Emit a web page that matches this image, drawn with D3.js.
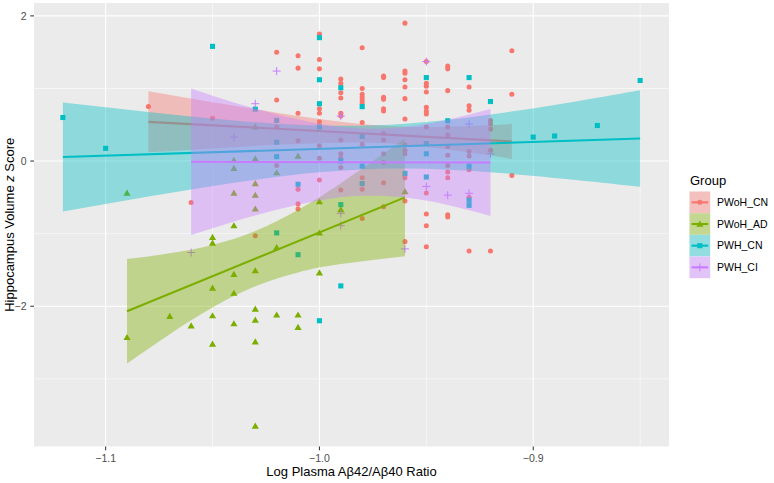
<!DOCTYPE html>
<html><head><meta charset="utf-8">
<script src="https://cdn.jsdelivr.net/npm/d3@7"></script>
<style>body{margin:0;background:#fff} svg{display:block} text{font-family:"Liberation Sans",Arial,Helvetica,sans-serif}</style>
</head><body><svg id="c" width="774" height="483"></svg>
<script>
const groups = ["PWoH_CN","PWoH_AD","PWH_CN","PWH_CI"];
const colors = ["#F8766D","#7CAE00","#00BFC4","#C77CFF"];
const shapes = ["circle","triangle","square","plus"];
const xTicks = [-1.1,-1.0,-0.9];
const xTickLabels = ["\u22121.1","\u22121.0","\u22120.9"];
const xMinor = [-1.05,-0.95,-0.85];
const yTicks = [2,0,-2];
const yTickLabels = ["2","0","\u22122"];
const yMinor = [1,-1,-3];

// points [x, y]
const pwohCN = [[-1.08,0.75],[-1.06,-0.57],[-1.05,0.59],[-1.03,-1.03],
[-1.02,1.50],[-1.02,0.84],[-1.02,0.47],[-1.02,-0.06],
[-1.01,1.45],[-1.01,1.28],[-1.01,0.66],[-1.01,0.28],[-1.01,-0.39],[-1.01,-0.59],[-1.01,-0.66],
[-1.00,1.75],[-1.00,1.40],[-1.00,1.27],[-1.00,0.72],[-1.00,0.66],[-1.00,0.54],[-1.00,0.21],[-1.00,0.04],[-1.00,-0.26],
[-0.99,1.13],[-0.99,1.07],[-0.99,0.94],[-0.99,0.87],[-0.99,0.66],[-0.99,0.62],[-0.99,0.29],[-0.99,0.10],[-0.99,0.04],[-0.99,-0.09],[-0.99,-0.40],
[-0.98,1.56],[-0.98,1.00],[-0.98,0.92],[-0.98,0.88],[-0.98,0.84],[-0.98,0.80],[-0.98,0.53],[-0.98,0.23],[-0.98,-0.23],[-0.98,-0.39],[-0.98,-0.79],
[-0.97,1.17],[-0.97,1.15],[-0.97,0.88],[-0.97,0.85],[-0.97,0.72],[-0.97,0.69],[-0.97,0.38],[-0.97,0.29],[-0.97,0.10],[-0.97,-0.02],[-0.97,-0.30],[-0.97,-0.63],
[-0.96,1.90],[-0.96,1.24],[-0.96,1.21],[-0.96,1.12],[-0.96,1.02],[-0.96,0.86],[-0.96,0.58],[-0.96,0.22],[-0.96,0.15],[-0.96,0.10],[-0.96,-0.23],[-0.96,-0.55],[-0.96,-1.11],
[-0.95,1.37],[-0.95,1.07],[-0.95,1.03],[-0.95,0.95],[-0.95,0.74],[-0.95,0.69],[-0.95,0.65],[-0.95,0.47],[-0.95,-0.44],[-0.95,-0.73],[-0.95,-0.89],[-0.95,-1.18],
[-0.94,1.31],[-0.94,1.27],[-0.94,0.97],[-0.94,0.47],[-0.94,0.36],[-0.94,0.20],[-0.94,0.08],[-0.94,-0.06],[-0.94,-0.15],[-0.94,-0.23],[-0.94,-0.74],[-0.94,-0.77],
[-0.93,1.02],[-0.93,0.76],[-0.93,0.70],[-0.93,0.13],[-0.93,0.07],[-0.93,-0.12],[-0.93,-0.50],[-0.93,-1.24],
[-0.92,0.56],[-0.92,0.51],[-0.92,0.44],[-0.92,0.15],[-0.92,-1.24],
[-0.91,1.52],[-0.91,0.92],[-0.91,-0.20]];

const pwohAD = [[-1.09,-0.44],[-1.09,-2.43],[-1.07,-2.14],[-1.06,-2.27],
[-1.05,-1.05],[-1.05,-1.13],[-1.05,-1.75],[-1.05,-2.13],[-1.05,-2.52],
[-1.04,0.01],[-1.04,-0.10],[-1.04,-0.44],[-1.04,-0.89],[-1.04,-1.56],[-1.04,-1.82],[-1.04,-2.24],
[-1.03,0.47],[-1.03,0.03],[-1.03,-0.31],[-1.03,-0.47],[-1.03,-0.66],[-1.03,-1.51],[-1.03,-2.04],[-1.03,-2.19],[-1.03,-2.49],[-1.03,-3.65],
[-1.02,-0.16],[-1.02,-1.19],[-1.02,-2.12],
[-1.01,0.07],[-1.01,-2.12],[-1.01,-2.29],
[-1.00,-0.56],[-1.00,-0.99],[-1.00,-1.54],
[-0.99,-0.67],[-0.96,-0.42]];

const pwhCN = [[-1.12,0.60],[-1.10,0.175],[-1.05,1.58],[-1.03,0.715],
[-1.02,0.56],[-1.02,0.26],[-1.02,0.06],[-1.02,-0.99],
[-1.01,-0.32],[-1.01,-1.29],
[-1.00,1.70],[-1.00,1.12],[-1.00,0.79],[-1.00,0.47],[-1.00,-2.20],
[-0.99,1.01],[-0.99,0.00],[-0.99,-0.60],[-0.99,-1.72],
[-0.98,0.75],[-0.98,0.34],[-0.98,-0.07],[-0.98,-0.31],
[-0.96,-0.17],
[-0.95,1.15],[-0.95,0.24],[-0.95,0.10],[-0.95,-0.22],
[-0.94,0.555],
[-0.93,1.15],[-0.93,-0.07],[-0.93,-0.54],[-0.93,-0.61],
[-0.92,0.82],
[-0.90,0.33],[-0.89,0.345],[-0.87,0.49],[-0.85,1.11]];

const pwhCI = [[-1.06,-1.26],[-1.04,0.33],[-1.03,0.79],[-1.02,1.24],[-0.99,0.62],[-0.99,-0.72],[-0.99,-0.89],
[-0.96,-1.21],[-0.95,1.37],[-0.95,-0.35],[-0.94,-0.47],[-0.93,0.51],[-0.93,-0.445],[-0.92,0.10]];

// smooth (lm) fits: [x, fit, lower, upper]
const fitPwohCN = [[-1.08,0.54,0.12,0.96],[-1.05,0.492,0.174,0.81],[-1.02,0.445,0.223,0.667],[-0.99,0.397,0.253,0.541],[-0.96,0.349,0.226,0.472],[-0.93,0.302,0.12,0.484],[-0.91,0.27,0.03,0.51]];
const fitPwohAD = [[-1.09,-2.07,-2.79,-1.35],[-1.07,-1.828,-2.385,-1.271],[-1.05,-1.587,-2.018,-1.156],[-1.03,-1.345,-1.725,-0.965],[-1.01,-1.103,-1.534,-0.672],[-0.99,-0.862,-1.419,-0.305],[-0.96,-0.50,-1.31,0.31]];
const fitPwhCN = [[-1.12,0.055,-0.695,0.805],[-1.08,0.093,-0.489,0.675],[-1.04,0.13,-0.30,0.56],[-1.00,0.168,-0.154,0.49],[-0.96,0.206,-0.102,0.514],[-0.92,0.243,-0.155,0.641],[-0.88,0.281,-0.26,0.822],[-0.85,0.31,-0.355,0.975]];
const fitPwhCI = [[-1.06,-0.01,-1.02,1.0],[-1.04,-0.012,-0.832,0.808],[-1.02,-0.013,-0.671,0.645],[-1.00,-0.014,-0.543,0.515],[-0.98,-0.016,-0.479,0.447],[-0.96,-0.017,-0.503,0.469],[-0.94,-0.018,-0.605,0.569],[-0.92,-0.02,-0.756,0.716]];

const pointSets = [pwohCN, pwohAD, pwhCN, pwhCI];
const fitSets = [fitPwohCN, fitPwohAD, fitPwhCN, fitPwhCI];

const W = 774, H = 483;
const P = {l:34, r:669, t:3, b:446.5};
const svg = d3.select("#c");
const x = d3.scaleLinear().domain([-1.1335,-0.8365]).range([P.l,P.r]);
const y = d3.scaleLinear().domain([-3.9325,2.1775]).range([P.b,P.t]);

svg.append("rect").attr("x",0).attr("y",0).attr("width",W).attr("height",H).attr("fill","#fff");
svg.append("rect").attr("x",P.l).attr("y",P.t).attr("width",P.r-P.l).attr("height",P.b-P.t).attr("fill","#EBEBEB");

const grid = svg.append("g");
xMinor.forEach(v=>grid.append("line").attr("x1",x(v)).attr("x2",x(v)).attr("y1",P.t).attr("y2",P.b).attr("stroke","#fff").attr("stroke-width",0.55));
yMinor.forEach(v=>grid.append("line").attr("y1",y(v)).attr("y2",y(v)).attr("x1",P.l).attr("x2",P.r).attr("stroke","#fff").attr("stroke-width",0.55));
xTicks.forEach(v=>grid.append("line").attr("x1",x(v)).attr("x2",x(v)).attr("y1",P.t).attr("y2",P.b).attr("stroke","#fff").attr("stroke-width",1.1));
yTicks.forEach(v=>grid.append("line").attr("y1",y(v)).attr("y2",y(v)).attr("x1",P.l).attr("x2",P.r).attr("stroke","#fff").attr("stroke-width",1.1));

const sym = {
  circle: d3.symbol().type(d3.symbolCircle).size(20),
  triangle: d3.symbol().type(d3.symbolTriangle).size(22),
  square: d3.symbol().type(d3.symbolSquare).size(26)
};
function drawMark(g, shape, color, cx, cy, scale) {
  scale = scale || 1;
  if (shape === "plus") {
    const a = 4*scale;
    g.append("path").attr("d",`M${cx-a},${cy}H${cx+a}M${cx},${cy-a}V${cy+a}`)
      .attr("stroke",color).attr("stroke-width",1).attr("fill","none");
  } else {
    let s = sym[shape];
    const t = shape==="triangle" ? `translate(${cx},${cy+0.6})` : `translate(${cx},${cy})`;
    g.append("path").attr("d",s()).attr("transform",t).attr("fill",color);
  }
}

const pts = svg.append("g");
pointSets.forEach((set,i)=>{
  set.forEach(d=>drawMark(pts, shapes[i], colors[i], x(d[0]), y(d[1])));
});

const smooth = svg.append("g");
fitSets.forEach((f,i)=>{
  const area = d3.area().x(d=>x(d[0])).y0(d=>y(d[2])).y1(d=>y(d[3])).curve(d3.curveNatural);
  smooth.append("path").attr("d",area(f)).attr("fill",colors[i]).attr("fill-opacity",0.4);
  const line = d3.line().x(d=>x(d[0])).y(d=>y(d[1]));
  smooth.append("path").attr("d",line([f[0],f[f.length-1]])).attr("stroke",colors[i]).attr("stroke-width",2.1).attr("fill","none");
});

// axes
const ax = svg.append("g");
xTicks.forEach((v,i)=>{
  ax.append("line").attr("x1",x(v)).attr("x2",x(v)).attr("y1",P.b).attr("y2",P.b+3.7).attr("stroke","#333").attr("stroke-width",1.05);
  ax.append("text").attr("x",x(v)).attr("y",462).attr("text-anchor","middle").attr("font-size",10.5).attr("fill","#4D4D4D").text(xTickLabels[i]);
});
yTicks.forEach((v,i)=>{
  ax.append("line").attr("x1",P.l-3.7).attr("x2",P.l).attr("y1",y(v)).attr("y2",y(v)).attr("stroke","#333").attr("stroke-width",1.05);
  ax.append("text").attr("x",P.l-7.5).attr("y",y(v)+3.7).attr("text-anchor","end").attr("font-size",10.5).attr("fill","#4D4D4D").text(yTickLabels[i]);
});
ax.append("text").attr("x",(P.l+P.r)/2).attr("y",475.5).attr("text-anchor","middle").attr("font-size",13).attr("fill","#000")
  .text("Log Plasma A\u03B242/A\u03B240 Ratio");
const yt = ax.append("text").attr("transform",`translate(13.5,${(P.t+P.b)/2}) rotate(-90)`).attr("text-anchor","middle").attr("font-size",13).attr("fill","#000");
yt.append("tspan").text("Hippocampus Volume ");
yt.append("tspan").attr("font-style","italic").text("z");
yt.append("tspan").text(" Score");

// legend
const lg = svg.append("g");
lg.append("text").attr("x",690).attr("y",185).attr("font-size",13).attr("fill","#000").text("Group");
const kx = 689.5, kw = 20.7, kh = 21.67, ky0 = 191.5;
groups.forEach((g,i)=>{
  const ky = ky0 + i*kh;
  lg.append("rect").attr("x",kx).attr("y",ky).attr("width",kw).attr("height",kh).attr("fill","#F2F2F2");
  lg.append("rect").attr("x",kx).attr("y",ky).attr("width",kw).attr("height",kh).attr("fill",colors[i]).attr("fill-opacity",0.4);
  lg.append("line").attr("x1",kx+2).attr("x2",kx+kw-2).attr("y1",ky+kh/2).attr("y2",ky+kh/2).attr("stroke",colors[i]).attr("stroke-width",2.1);
  drawMark(lg, shapes[i], colors[i], kx+kw/2, ky+kh/2);
  lg.append("text").attr("x",717).attr("y",ky+kh/2+3.8).attr("font-size",10.5).attr("fill","#000").text(g);
});
</script></body></html>
